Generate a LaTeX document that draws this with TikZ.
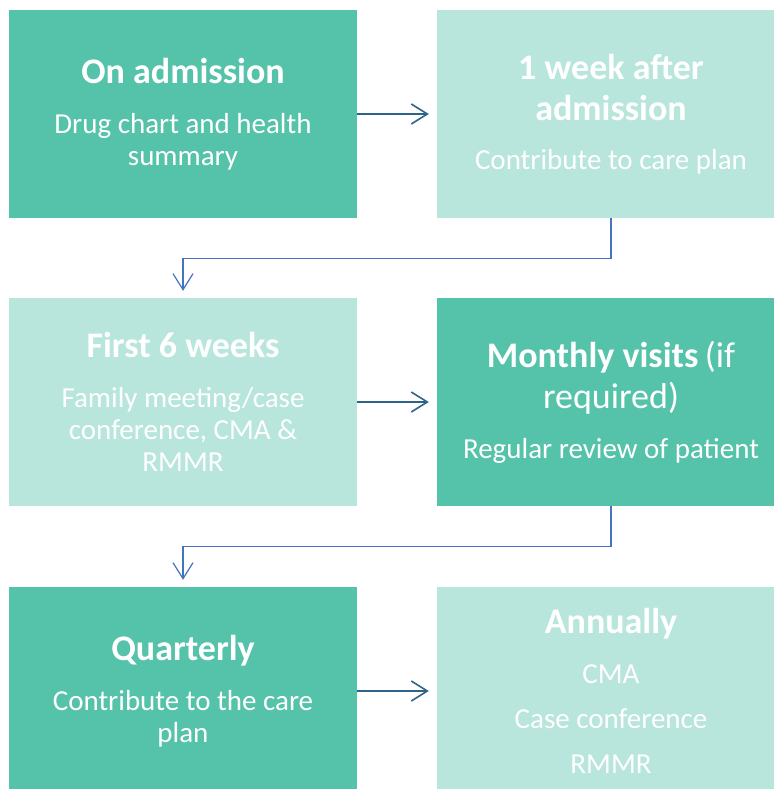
\documentclass[tikz,border=0pt]{standalone}
\usepackage{fontspec}
\setmainfont{Carlito}
\usetikzlibrary{arrows.meta}
\definecolor{tealdk}{HTML}{55C2AA}
\definecolor{teallt}{HTML}{B8E6DC}
\definecolor{navy}{HTML}{2E6489}
\definecolor{link}{HTML}{4472C4}
\newcommand\hd[1]{{\fontsize{36}{36}\selectfont\bfseries #1}}
\newcommand\hdr[1]{{\fontsize{36}{36}\selectfont #1}}

\begin{document}
\begin{tikzpicture}[x=1pt,y=-1pt,
    box/.style={minimum width=348pt,minimum height=208pt,inner sep=0pt,
      align=center,text=white,font=\fontsize{29}{32}\selectfont},
    dk/.style={box,fill=tealdk},
    lt/.style={box,fill=teallt},
    nxt/.style={navy,line width=1.6pt,-{Straight Barb[length=16pt,width=20pt]},shorten >=8pt},
    down/.style={link,line width=1.2pt,-{Straight Barb[length=16pt,width=20pt]},shorten >=7pt}]
  \useasboundingbox (0,0) rectangle (773,789);

  % left column x=9..357, right column x=437..785 (cut at the page edge)
  \node[dk] (adm) at (183,114) {\hd{On admission}\\[18pt] Drug chart and health\\ summary};
  \node[lt] (wk)  at (611,114) {\hd{1 week after}\\[9pt] \hd{admission}\\[17pt] Contribute to care plan};
  \node[lt] (six) at (183,402) {\hd{First 6 weeks}\\[18pt] Family meeting/case\\ conference, CMA \&\\ RMMR};
  \node[dk] (mon) at (611,402) {\hd{Monthly visits} \hdr{(if}\\[9pt] \hdr{required)}\\[18pt]
    Regular review of patient};
  \node[dk] (qtr) at (183,691) {\hd{Quarterly}\\[18pt] Contribute to the care\\ plan};
  \node[lt] (ann) at (611,691) {\hd{Annually}\\[18pt] CMA\\[13pt] Case conference\\[13pt] RMMR};

  \draw[nxt] (adm) -- (wk);
  \draw[nxt] (six) -- (mon);
  \draw[nxt] (qtr) -- (ann);
  \draw[down] (wk.south) -- ++(0,40) -| (six.north);
  \draw[down] (mon.south) -- ++(0,40) -| (qtr.north);
\end{tikzpicture}
\end{document}
